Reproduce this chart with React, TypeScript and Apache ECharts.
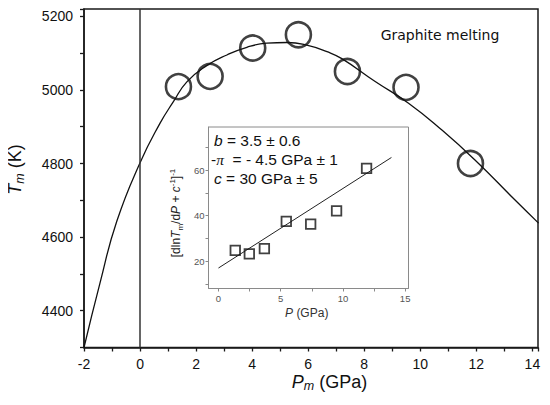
import { useEffect, useRef } from "react";
import * as echarts from "echarts";

// Main panel: fitted melting curve
const fitP = [-2, -1.43, -0.83, 0, 0.71, 1.19, 1.67, 2.38, 3.1, 3.81, 4.52, 5.24, 5.95, 6.67, 7.2, 8.39, 9.58, 10.77, 11.96, 13.39, 14.22];
const fitT = [4300, 4475, 4643, 4802, 4909, 4968, 5022, 5066, 5095, 5116, 5127, 5129, 5122, 5104, 5085, 5023, 4964, 4891, 4809, 4700, 4638];

// Main panel: measured melting points
const meltP = [1.37, 2.5, 4.02, 5.65, 7.4, 9.49, 11.79];
const meltT = [5009, 5037, 5114, 5150, 5050, 5007, 4800];

// Inset: linearised data
const insetP = [1.35, 2.48, 3.69, 5.45, 7.41, 9.49, 11.9];
const insetV = [24.8, 23.2, 25.5, 37.5, 36.3, 42.1, 60.8];
const insetLineP = [0, 13.9];
const insetLineV = [17, 65.6];

// Inset ticks / labels
const insetXTicks = [0, 2.5, 5, 7.5, 10, 12.5, 15];
const insetXLabels = [0, 5, 10, 15];
const insetYTicks = [10, 20, 30, 40, 50, 60, 70];
const insetYLabels = [20, 40, 60];

const FONT = "'Liberation Sans', Arial, sans-serif";

export default function App() {
  const ref = useRef<HTMLDivElement>(null);

  useEffect(() => {
    if (!ref.current) return;
    const chart = echarts.init(ref.current, undefined, { renderer: "svg" });

    const gray = "#8a8a8a";
    const dark = "#1a1a1a";

    const option: any = {
      animation: false,
      backgroundColor: "#fff",
      textStyle: { fontFamily: FONT },
      grid: [
        {
          left: 84, top: 9, width: 454, height: 338.5,
          show: true, borderColor: dark, borderWidth: 1.5, backgroundColor: "rgba(0,0,0,0)",
        },
        {
          left: 208.5, top: 127, width: 200, height: 161.5,
          show: true, borderColor: gray, borderWidth: 1, backgroundColor: "#fff", z: 3,
        },
      ],
      xAxis: [
        {
          gridIndex: 0, type: "value", min: -2, max: 14.2, interval: 1,
          axisLine: { show: true, onZero: false, lineStyle: { color: dark, width: 1.5 } },
          axisTick: { show: true, inside: false, length: 4, lineStyle: { color: dark, width: 1.3 } },
          axisLabel: {
            fontSize: 14, color: "#111", margin: 9, fontFamily: FONT,
            formatter: (v: number) => {
              const r = Math.round(v);
              return Math.abs(v - r) < 1e-6 && r % 2 === 0 ? String(r) : "";
            },
          },
          splitLine: { show: false },
        },
        {
          gridIndex: 1, type: "value", min: -0.8, max: 15.27,
          axisLine: { show: true, onZero: false, lineStyle: { color: gray, width: 1 } },
          axisTick: { show: true, inside: false, length: 3, customValues: insetXTicks, lineStyle: { color: gray, width: 1 } },
          axisLabel: { fontSize: 9.5, color: "#555", margin: 5, customValues: insetXLabels, fontFamily: FONT },
          splitLine: { show: false },
        },
      ],
      yAxis: [
        {
          gridIndex: 0, type: "value", min: 4300, max: 5220, interval: 100,
          axisLine: { show: true, onZero: false, lineStyle: { color: dark, width: 1.5 } },
          axisTick: { show: true, inside: false, length: 4, lineStyle: { color: dark, width: 1.3 } },
          axisLabel: {
            fontSize: 14, color: "#111", margin: 11, fontFamily: FONT,
            formatter: (v: number) => {
              const r = Math.round(v);
              return Math.abs(v - r) < 1e-6 && r % 200 === 0 && r <= 5200 ? String(r) : "";
            },
          },
          splitLine: { show: false },
        },
        {
          gridIndex: 1, type: "value", min: 8, max: 79,
          axisLine: { show: true, onZero: false, lineStyle: { color: gray, width: 1 } },
          axisTick: { show: true, inside: false, length: 3, customValues: insetYTicks, lineStyle: { color: gray, width: 1 } },
          axisLabel: { fontSize: 9.5, color: "#555", margin: 4, customValues: insetYLabels, fontFamily: FONT },
          splitLine: { show: false },
        },
      ],
      series: [
        {
          type: "line", xAxisIndex: 0, yAxisIndex: 0,
          data: fitP.map((p, i) => [p, fitT[i]]),
          smooth: true, symbol: "none", clip: true,
          lineStyle: { color: "#111", width: 1.3 },
          markLine: {
            silent: true, symbol: "none", label: { show: false },
            lineStyle: { color: "#333", width: 1.5, type: "solid" },
            emphasis: { disabled: true },
            data: [{ xAxis: 0 }],
          },
          z: 2,
        },
        {
          type: "scatter", xAxisIndex: 0, yAxisIndex: 0,
          data: meltP.map((p, i) => [p, meltT[i]]),
          symbol: "circle", symbolSize: 25,
          itemStyle: { color: "rgba(0,0,0,0)", borderColor: "#111", borderWidth: 2.6 },
          z: 2,
        },
        {
          type: "line", xAxisIndex: 1, yAxisIndex: 1,
          data: insetLineP.map((p, i) => [p, insetLineV[i]]),
          symbol: "none", lineStyle: { color: "#222", width: 1 },
          z: 6,
        },
        {
          type: "scatter", xAxisIndex: 1, yAxisIndex: 1,
          data: insetP.map((p, i) => [p, insetV[i]]),
          symbol: "rect", symbolSize: 9.5,
          itemStyle: { color: "rgba(0,0,0,0)", borderColor: "#111", borderWidth: 1.8 },
          z: 6,
        },
      ],
      graphic: [
        {
          type: "text", x: 440, y: 34.5, z: 10,
          style: {
            text: "Graphite melting", font: "14px 'DejaVu Sans'", fill: "#111",
            align: "center", verticalAlign: "middle", textAlign: "center", textVerticalAlign: "middle",
          },
        },
        {
          type: "text", x: 329.5, y: 381.5, z: 10,
          style: {
            text: "{i|P}{s|m}{n| (GPa)}",
            align: "center", verticalAlign: "middle", textAlign: "center", textVerticalAlign: "middle",
            rich: {
              i: { fontSize: 18, fontStyle: "italic", fontFamily: FONT, lineHeight: 22, verticalAlign: "middle", fill: "#111" },
              s: { fontSize: 12.5, fontStyle: "italic", fontFamily: FONT, lineHeight: 7, verticalAlign: "bottom", fill: "#111" },
              n: { fontSize: 18, fontFamily: FONT, lineHeight: 22, verticalAlign: "middle", fill: "#111" },
            },
          },
        },
        {
          type: "text", x: 15, y: 169.5, rotation: Math.PI / 2, z: 10,
          style: {
            text: "{i|T}{s|m}{n| (K)}",
            align: "center", verticalAlign: "middle", textAlign: "center", textVerticalAlign: "middle",
            rich: {
              i: { fontSize: 18, fontStyle: "italic", fontFamily: FONT, lineHeight: 22, verticalAlign: "middle", fill: "#111" },
              s: { fontSize: 12.5, fontStyle: "italic", fontFamily: FONT, lineHeight: 7, verticalAlign: "bottom", fill: "#111" },
              n: { fontSize: 18, fontFamily: FONT, lineHeight: 22, verticalAlign: "middle", fill: "#111" },
            },
          },
        },
        {
          type: "text", x: 176, y: 213, rotation: Math.PI / 2, z: 10,
          style: {
            text: "{n|[dln}{i|T}{s|m}{n|/d}{i|P}{n| + }{i|c}{p|-1}{n|]}{p|-1}",
            align: "center", verticalAlign: "middle", textAlign: "center", textVerticalAlign: "middle",
            rich: {
              n: { fontSize: 12, fontFamily: FONT, lineHeight: 16, verticalAlign: "middle", fill: "#222" },
              i: { fontSize: 12, fontStyle: "italic", fontFamily: FONT, lineHeight: 16, verticalAlign: "middle", fill: "#222" },
              s: { fontSize: 8, fontFamily: FONT, lineHeight: 6, verticalAlign: "bottom", fill: "#222" },
              p: { fontSize: 8, fontFamily: FONT, lineHeight: 6, verticalAlign: "top", fill: "#222" },
            },
          },
        },
        {
          type: "text", x: 306.7, y: 313, z: 10,
          style: {
            text: "{i|P}{n| (GPa)}",
            align: "center", verticalAlign: "middle", textAlign: "center", textVerticalAlign: "middle",
            rich: {
              i: { fontSize: 12, fontStyle: "italic", fontFamily: FONT, fill: "#333" },
              n: { fontSize: 12, fontFamily: FONT, fill: "#333" },
            },
          },
        },
        {
          type: "text", x: 214, y: 140, z: 10,
          style: {
            text: "{i|b}{n| = 3.5 ± 0.6}",
            align: "left", verticalAlign: "middle", textAlign: "left", textVerticalAlign: "middle",
            rich: {
              i: { fontSize: 15.5, fontStyle: "italic", fontFamily: FONT, fill: "#111" },
              n: { fontSize: 15.5, fontFamily: FONT, fill: "#111" },
            },
          },
        },
        {
          type: "text", x: 211, y: 159.5, z: 10,
          style: {
            text: "{n|-}{g|π}{n|  = - 4.5 GPa ± 1}",
            align: "left", verticalAlign: "middle", textAlign: "left", textVerticalAlign: "middle",
            rich: {
              g: { fontSize: 15.5, fontStyle: "italic", fontFamily: "'Liberation Serif', serif", fill: "#111" },
              n: { fontSize: 15.5, fontFamily: FONT, fill: "#111" },
            },
          },
        },
        {
          type: "text", x: 214, y: 178, z: 10,
          style: {
            text: "{i|c}{n| = 30 GPa ± 5}",
            align: "left", verticalAlign: "middle", textAlign: "left", textVerticalAlign: "middle",
            rich: {
              i: { fontSize: 15.5, fontStyle: "italic", fontFamily: FONT, fill: "#111" },
              n: { fontSize: 15.5, fontFamily: FONT, fill: "#111" },
            },
          },
        },
      ],
    };

    chart.setOption(option);
    return () => chart.dispose();
  }, []);

  return <div ref={ref} style={{ width: 550, height: 405, margin: -8 }} />;
}
